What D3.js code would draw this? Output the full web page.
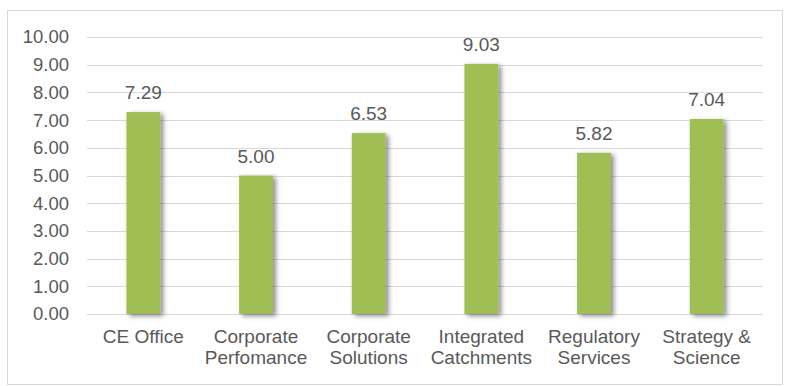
<!DOCTYPE html>
<html>
  <head>
    <meta charset="utf-8"/>
    <title>Scores by directorate</title>
    <style type="text/css">
body {
  margin: 0;
  background: #fff;
  font-family: "Liberation Sans", Arial, sans-serif;
}
.grid line {
  stroke: #d9d9d9;
  stroke-width: 1;
}
.axis text, .label, .cat {
  fill: #595959;
  font-size: 19px;
}
.axis text {
  font-size: 18.5px;
}
    </style>
  </head>
  <body>
    <div id="chart"></div>
    <script src="https://cdn.jsdelivr.net/npm/d3@7"></script>
    <script>
    const categories = [
      ["CE Office"],
      ["Corporate", "Perfomance"],
      ["Corporate", "Solutions"],
      ["Integrated", "Catchments"],
      ["Regulatory", "Services"],
      ["Strategy &", "Science"]
    ];
    const values = [7.29, 5.00, 6.53, 9.03, 5.82, 7.04];
    const yTicks = [0, 1, 2, 3, 4, 5, 6, 7, 8, 9, 10];

    const width = 788, height = 386;
    const plotLeft = 87, plotRight = 763, plotTop = 37, plotBottom = 314;

    const svg = d3.select("#chart").append("svg")
        .attr("width", width)
        .attr("height", height);

    const defs = svg.append("defs");
    const f = defs.append("filter").attr("id", "shadow")
        .attr("x", "-30%").attr("y", "-10%")
        .attr("width", "180%").attr("height", "130%");
    f.append("feDropShadow")
        .attr("dx", 3).attr("dy", 2)
        .attr("stdDeviation", 2.5)
        .attr("flood-color", "#000")
        .attr("flood-opacity", 0.45);

    // outer frame
    svg.append("rect")
        .attr("x", 7.5).attr("y", 10.5)
        .attr("width", 775).attr("height", 374)
        .attr("fill", "#fff")
        .attr("stroke", "#d9d9d9");

    const x = d3.scaleBand()
        .domain(d3.range(categories.length))
        .range([plotLeft, plotRight])
        .paddingInner(0.7)
        .paddingOuter(0.35);

    const y = d3.scaleLinear().domain([0, 10]).range([plotBottom, plotTop]);

    svg.append("g").attr("class", "grid")
      .selectAll("line")
      .data(yTicks)
      .enter().append("line")
        .attr("x1", plotLeft).attr("x2", plotRight)
        .attr("y1", d => Math.round(y(d)) + 0.5)
        .attr("y2", d => Math.round(y(d)) + 0.5);

    svg.append("g").attr("class", "axis")
      .selectAll("text")
      .data(yTicks)
      .enter().append("text")
        .attr("x", 69)
        .attr("y", d => y(d))
        .attr("dy", "0.35em")
        .attr("text-anchor", "end")
        .text(d => d.toFixed(2));

    svg.append("g")
      .selectAll("rect")
      .data(values)
      .enter().append("rect")
        .attr("x", (d, i) => x(i))
        .attr("y", d => y(d))
        .attr("width", x.bandwidth())
        .attr("height", d => plotBottom - y(d))
        .attr("fill", "#9fbe53")
        .attr("filter", "url(#shadow)");

    svg.append("g")
      .selectAll("text")
      .data(values)
      .enter().append("text")
        .attr("class", "label")
        .attr("x", (d, i) => x(i) + x.bandwidth() / 2)
        .attr("y", d => y(d) - 13)
        .attr("text-anchor", "middle")
        .text(d => d.toFixed(2));

    const cat = svg.append("g")
      .selectAll("text")
      .data(categories)
      .enter().append("text")
        .attr("class", "cat")
        .attr("text-anchor", "middle")
        .attr("x", (d, i) => x(i) + x.bandwidth() / 2)
        .attr("y", 343);
    cat.selectAll("tspan")
      .data(d => d)
      .enter().append("tspan")
        .attr("x", function () { return d3.select(this.parentNode).attr("x"); })
        .attr("dy", (d, i) => i === 0 ? 0 : 21)
        .text(d => d);
    </script>
  </body>
</html>
